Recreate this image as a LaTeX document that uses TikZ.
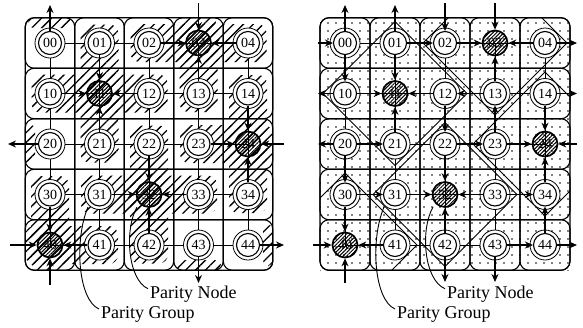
\documentclass[tikz,border=0pt]{standalone}
\usepackage{fontspec}
\setmainfont{Liberation Serif}
\usetikzlibrary{arrows.meta,patterns.meta}

\begin{document}
\begin{tikzpicture}[x=1pt,y=-1pt]
\tikzset{
  mesh/.style={line width=0.9pt},
  tube/.style={line width=1.1pt, rounded corners=9pt},
  ringline/.style={line width=0.8pt, fill=white},
  datanode/.style={circle, draw, line width=1.1pt, fill=white, minimum size=23pt,
    inner sep=0pt, font=\fontsize{14}{14}\selectfont},
  paritynode/.style={circle, draw, line width=1.7pt, minimum size=25pt, inner sep=0pt,
    pattern={Lines[angle=45,distance=2.6pt,line width=1pt]},
    font=\fontsize{14}{14}\selectfont},
  feed/.style={line width=1.9pt, -{Stealth[length=8pt,width=7pt]}},
  hatch/.style={pattern={Lines[angle=45,distance=7pt,line width=1.3pt]}},
  dotfill/.style={pattern={Dots[distance=8pt,radius=0.85pt]}},
  caption/.style={font=\fontsize{18}{18}\selectfont, anchor=base west, inner sep=0pt},
  leader/.style={line width=0.9pt}
}
\useasboundingbox (0,0) rectangle (583,327);

% ---------------- left mesh: plus-shaped parity groups ----------------
\foreach \r/\c in {1/1,0/3,2/4,3/2,4/0}{
  \pgfmathsetmacro\cx{50+49.5*\c}
  \pgfmathsetmacro\cy{43+50.5*\r}
  \pgfmathsetmacro\ya{max(\cy-69,17.75)}
  \pgfmathsetmacro\yb{min(\cy+69,270.25)}
  \pgfmathsetmacro\xa{max(\cx-68,25.25)}
  \pgfmathsetmacro\xb{min(\cx+68,272.75)}
  \fill[hatch, rounded corners=9pt] (\cx-19,\ya) rectangle (\cx+19,\yb);
  \fill[hatch, rounded corners=9pt] (\xa,\cy-19) rectangle (\xb,\cy+19);
}
% wrapped members of the border groups
\fill[hatch, rounded corners=6pt] (28,17.75) rectangle (72,28);
\fill[hatch, rounded corners=6pt] (176,260) rectangle (221,270.25);
\fill[hatch, rounded corners=6pt] (25.25,124) rectangle (35,165);
\fill[hatch, rounded corners=6pt] (263,224) rectangle (272.75,266);

% row and column tubes
\foreach \k in {0,...,4}{
  \pgfmathsetmacro\cy{43+50.5*\k}
  \pgfmathsetmacro\cx{50+49.5*\k}
  \draw[tube] (25.25,\cy-25.25) rectangle (272.75,\cy+25.25);
  \draw[tube] (\cx-24.75,17.75) rectangle (\cx+24.75,270.25);
}
% mesh links
\foreach \k in {0,...,4}{
  \pgfmathsetmacro\cy{43+50.5*\k}
  \pgfmathsetmacro\cx{50+49.5*\k}
  \draw[mesh] (50,\cy) -- (248,\cy);
  \draw[mesh] (\cx,43) -- (\cx,245);
}
% nodes
\foreach \i in {0,...,4}{
  \foreach \j in {0,...,4}{
    \pgfmathsetmacro\cx{50+49.5*\j}
    \pgfmathsetmacro\cy{43+50.5*\i}
    \pgfmathtruncatemacro\p{(\i==1&&\j==1)||(\i==0&&\j==3)||(\i==2&&\j==4)||(\i==3&&\j==2)||(\i==4&&\j==0)}
    \ifnum\p=1
      \node[paritynode] (L\i\j) at (\cx,\cy) {\i\j};
    \else
      \draw[ringline] (\cx,\cy) circle[radius=15pt];
      \node[datanode] (L\i\j) at (\cx,\cy) {\i\j};
    \fi
  }
}
% data feeding each parity node
\foreach \a/\b in {L01/L11,L10/L11,L12/L11,L21/L11,
                   L02/L03,L04/L03,L13/L03,
                   L14/L24,L23/L24,L34/L24,
                   L22/L32,L31/L32,L33/L32,L42/L32,
                   L30/L40,L41/L40}
  \draw[feed] (\a) -- (\b);
% links that wrap round the border
\coordinate (Ltop0) at (50,5);      \draw[feed] (L00) -- (Ltop0);
\coordinate (Lbot0) at (50,285);    \draw[feed] (Lbot0) -- (L40);
\coordinate (Lbot3) at (198.5,283); \draw[feed] (L43) -- (Lbot3);
\coordinate (Ltop3) at (198.5,3);   \draw[feed] (Ltop3) -- (L03);
\coordinate (Lleft2) at (8,144);    \draw[feed] (L20) -- (Lleft2);
\coordinate (Lright2) at (284,144); \draw[feed] (Lright2) -- (L24);
\coordinate (Lright4) at (284,245); \draw[feed] (L44) -- (Lright4);
\coordinate (Lleft4) at (10,245);   \draw[feed] (Lleft4) -- (L40);

% captions
\node[caption] (Lpn) at (150,298) {Parity Node};
\node[caption] (Lpg) at (101,318) {Parity Group};
\draw[leader] (Lpn.west) ++(-2,-5) .. controls (128,280) and (124,230) .. (137,207);
\draw[leader] (Lpg.west) ++(-2,-5) .. controls (78,300) and (74,240) .. (88,207);

% ---------------- right mesh ----------------
\fill[dotfill] (320,17.75) rectangle (570,270.25);
\foreach \k in {0,...,4}{
  \pgfmathsetmacro\cy{43+50.5*\k}
  \pgfmathsetmacro\cx{345+50*\k}
  \draw[tube] (320,\cy-25.25) rectangle (570,\cy+25.25);
  \draw[tube] (\cx-25,17.75) rectangle (\cx+25,270.25);
}
% diamond-shaped parity groups
\foreach \r/\c in {1/1,0/3,2/4,3/2,4/0}{
  \pgfmathsetmacro\cx{345+50*\c}
  \pgfmathsetmacro\cy{43+50.5*\r}
  \begin{scope}
    \clip (320,17.75) rectangle (570,270.25);
    \draw[line width=0.9pt] (\cx,\cy-72) -- (\cx+72,\cy) -- (\cx,\cy+72) -- (\cx-72,\cy) -- cycle;
  \end{scope}
}
\foreach \k in {0,...,4}{
  \pgfmathsetmacro\cy{43+50.5*\k}
  \pgfmathsetmacro\cx{345+50*\k}
  \draw[mesh] (345,\cy) -- (545,\cy);
  \draw[mesh] (\cx,43) -- (\cx,245);
}
\foreach \i in {0,...,4}{
  \foreach \j in {0,...,4}{
    \pgfmathsetmacro\cx{345+50*\j}
    \pgfmathsetmacro\cy{43+50.5*\i}
    \pgfmathtruncatemacro\p{(\i==1&&\j==1)||(\i==0&&\j==3)||(\i==2&&\j==4)||(\i==3&&\j==2)||(\i==4&&\j==0)}
    \ifnum\p=1
      \node[paritynode] (R\i\j) at (\cx,\cy) {\i\j};
    \else
      \draw[ringline] (\cx,\cy) circle[radius=15pt];
      \node[datanode] (R\i\j) at (\cx,\cy) {\i\j};
    \fi
  }
}
\foreach \a/\b in {R01/R02,R02/R03,R04/R03,
                   R10/R11,R12/R11,R13/R12,
                   R20/R21,R22/R23,R23/R24,
                   R30/R31,R31/R32,R33/R32,R33/R34,
                   R41/R40,R43/R44,
                   R00/R10,R20/R30,R30/R40,
                   R01/R11,R21/R11,
                   R12/R22,R22/R32,R42/R32,
                   R13/R03,R23/R13,
                   R14/R24,R34/R24,R44/R34}
  \draw[feed] (\a) -- (\b);
\coordinate (Rleft0) at (318,43);   \draw[feed] (Rleft0) -- (R00);
\coordinate (Rright0) at (577,43);  \draw[feed] (R04) -- (Rright0);
\coordinate (Rleft1) at (318,93.5); \draw[feed] (R10) -- (Rleft1);
\coordinate (Rright1) at (577,93.5);\draw[feed] (R14) -- (Rright1);
\coordinate (Rleft2) at (318,144);  \draw[feed] (R20) -- (Rleft2);
\coordinate (Rright2) at (577,144); \draw[feed] (Rright2) -- (R24);
\coordinate (Rleft4) at (313,245);  \draw[feed] (Rleft4) -- (R40);
\coordinate (Rright4) at (577,245); \draw[feed] (R44) -- (Rright4);
\coordinate (Rtop0) at (345,5);     \draw[feed] (R00) -- (Rtop0);
\coordinate (Rtop1) at (395,5);     \draw[feed] (R01) -- (Rtop1);
\coordinate (Rtop2) at (445,3);     \draw[feed] (Rtop2) -- (R02);
\coordinate (Rtop3) at (495,3);     \draw[feed] (Rtop3) -- (R03);
\coordinate (Rbot0) at (345,283);   \draw[feed] (Rbot0) -- (R40);
\coordinate (Rbot2) at (445,282);   \draw[feed] (R42) -- (Rbot2);
\coordinate (Rbot3) at (495,282);   \draw[feed] (R43) -- (Rbot3);

\node[caption] (Rpn) at (447,298) {Parity Node};
\node[caption] (Rpg) at (397,318) {Parity Group};
\draw[leader] (Rpn.west) ++(-2,-5) .. controls (424,280) and (420,230) .. (433,207);
\draw[leader] (Rpg.west) ++(-2,-5) .. controls (374,300) and (370,240) .. (384,207);
\end{tikzpicture}
\end{document}
